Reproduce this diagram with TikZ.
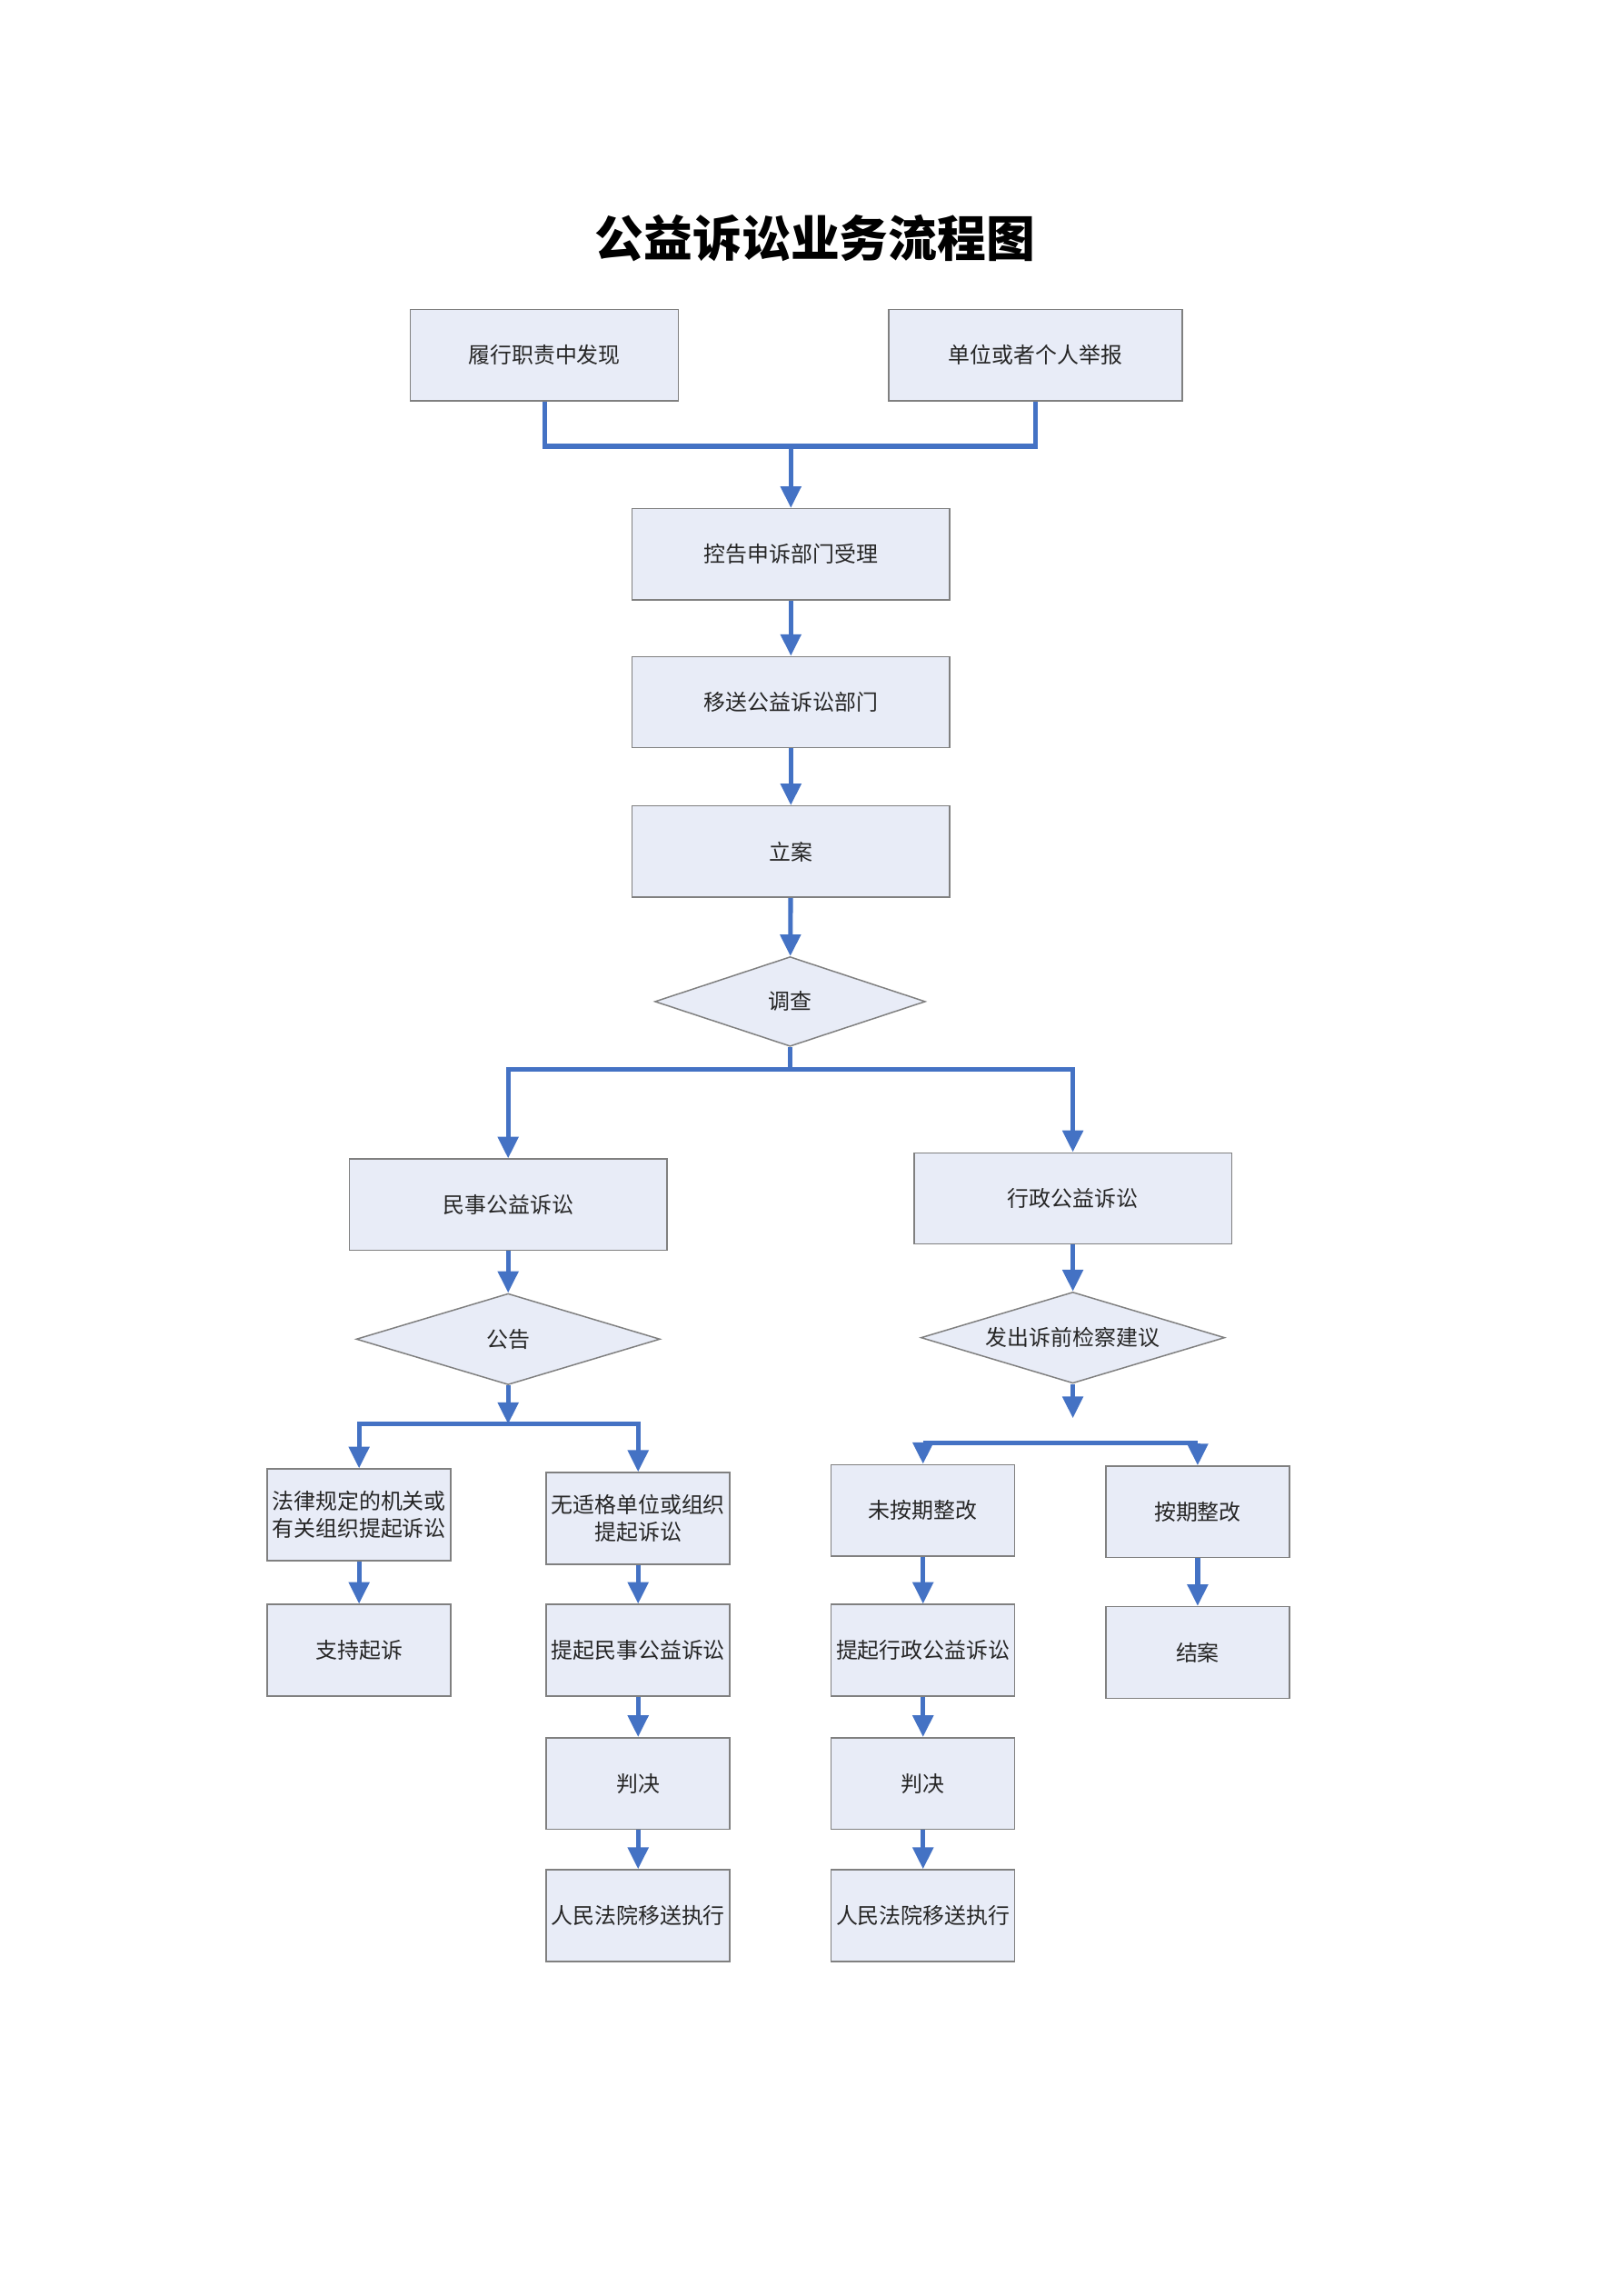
\documentclass[tikz,border=0pt]{standalone}
\usepackage{fontspec}
\setmainfont{Noto Sans CJK SC}
\usetikzlibrary{shapes.geometric,arrows.meta}
\definecolor{flowblue}{RGB}{68,114,196}
\definecolor{boxfill}{RGB}{232,236,247}
\definecolor{boxline}{RGB}{128,128,128}
\tikzset{
  box/.style={rectangle, draw=boxline, fill=boxfill, line width=0.5pt, inner sep=1pt,
    align=center, font=\fontsize{8}{10}\selectfont, text=black!85},
  bigbox/.style={box, minimum width=41.1mm, minimum height=11.8mm},
  smallbox/.style={box, minimum width=23.75mm, minimum height=11.85mm},
  decision/.style={diamond, draw=boxline, fill=boxfill, line width=0.5pt, inner sep=0pt,
    aspect=3.3, font=\fontsize{8}{10}\selectfont, text=black!85},
  flowline/.style={draw=flowblue, line width=1.7pt},
  flowarrow/.style={flowline, -{Triangle[length=2.8mm,width=2.6mm]}},
}
\begin{document}
\begin{tikzpicture}[x=0.19mm, y=-0.19mm]
        \useasboundingbox (0,0) rectangle (1105,1563);
        % Title
        \node (title) at (555,162) {\fontsize{18}{20}\selectfont\bfseries 公益诉讼业务流程图};

        % Nodes
        \node (find) [box, minimum width=34.7mm, minimum height=11.8mm] at (370.7,241.8) {履行职责中发现};
        \node (report) [box, minimum width=38mm, minimum height=11.8mm] at (705,241.8) {单位或者个人举报};
        \node (accept) [bigbox] at (538.5,377.3) {控告申诉部门受理};
        \node (transfer) [bigbox] at (538.5,478) {移送公益诉讼部门};
        \node (filing) [bigbox] at (538.5,579.7) {立案};
        \node (survey) [decision, minimum width=35mm, minimum height=11.6mm] at (538,681.8) {调查};
        \node (civil) [bigbox] at (346,820.1) {民事公益诉讼};
        \node (admin) [bigbox] at (730.5,815.8) {行政公益诉讼};
        \node (notice) [decision, minimum width=39.3mm, minimum height=11.8mm] at (346,911.6) {公告};
        \node (advice) [decision, minimum width=39.3mm, minimum height=11.8mm] at (730.5,910.6) {发出诉前检察建议};

        \node (organ) [smallbox] at (244.5,1031.2) {法律规定的机关或\\有关组织提起诉讼};
        \node (support) [smallbox] at (244.5,1123.4) {支持起诉};
        \node (noorgan) [smallbox] at (434.5,1033.6) {无适格单位或组织\\提起诉讼};
        \node (civilsuit) [smallbox] at (434.5,1123.4) {提起民事公益诉讼};
        \node (civiljudge) [smallbox] at (434.5,1214.1) {判决};
        \node (civilexec) [smallbox] at (434.5,1304) {人民法院移送执行};

        \node (late) [smallbox] at (628.5,1028.2) {未按期整改};
        \node (adminsuit) [smallbox] at (628.5,1123.4) {提起行政公益诉讼};
        \node (adminjudge) [smallbox] at (628.5,1214.1) {判决};
        \node (adminexec) [smallbox] at (628.5,1304) {人民法院移送执行};
        \node (ontime) [smallbox] at (815.5,1029.2) {按期整改};
        \node (close) [smallbox] at (815.5,1124.9) {结案};

        % Junctions
        \coordinate (j1) at (538.5,303.8);
        \coordinate (j2) at (538,728.2);
        \coordinate (j3) at (346,969.4);
        \coordinate (j4) at (730.5,965.4);
        \coordinate (j5) at (628.5,982.4);
        \coordinate (j6) at (815.5,982.4);

        % Edges
        \draw[flowline] (find.south) |- (j1) -| (report.south);
        \draw[flowarrow] (j1) -- (accept);
        \draw[flowarrow] (accept) -- (transfer);
        \draw[flowarrow] (transfer) -- (filing);
        \draw[flowarrow] (filing) -- (survey);
        \draw[flowline] (survey.south) -- (j2);
        \draw[flowarrow] (j2) -| (civil.north);
        \draw[flowarrow] (j2) -| (admin.north);
        \draw[flowarrow] (civil) -- (notice);
        \draw[flowarrow] (admin) -- (advice);

        \draw[flowarrow] (notice.south) -- (j3);
        \draw[flowarrow] (j3) -| (organ.north);
        \draw[flowarrow] (j3) -| (noorgan.north);
        \draw[flowarrow] (organ) -- (support);
        \draw[flowarrow] (noorgan) -- (civilsuit);
        \draw[flowarrow] (civilsuit) -- (civiljudge);
        \draw[flowarrow] (civiljudge) -- (civilexec);

        \draw[flowarrow] (advice.south) -- (j4);
        \draw[flowline] (j5) -- (j6);
        \draw[flowarrow] (j5) -- (late.north);
        \draw[flowarrow] (j6) -- (ontime.north);
        \draw[flowarrow] (late) -- (adminsuit);
        \draw[flowarrow] (adminsuit) -- (adminjudge);
        \draw[flowarrow] (adminjudge) -- (adminexec);
        \draw[flowarrow] (ontime) -- (close);
    \end{tikzpicture}
\end{document}
